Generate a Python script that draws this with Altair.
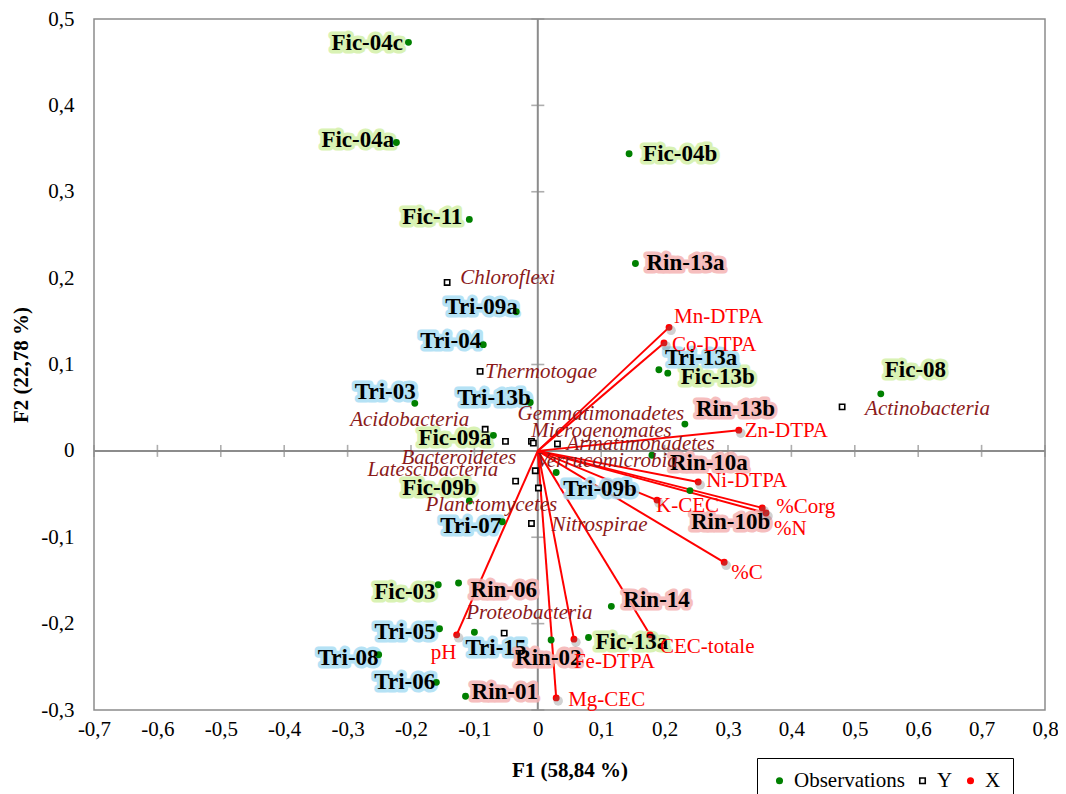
import altair as alt
import pandas as pd

# ---------------- data ----------------
obs_names = ["Fic-04c", "Fic-04a", "Fic-04b", "Fic-11", "Rin-13a", "Tri-09a", "Tri-04",
             "Tri-03", "Tri-13b", "Fic-09a", "Fic-09b", "Tri-07", "Tri-09b", "Tri-13a",
             "Fic-13b", "Rin-13b", "Rin-10a", "Rin-10b", "Fic-08", "Fic-03", "Rin-06",
             "Rin-14", "Tri-05", "Tri-08", "Tri-15", "Tri-06", "Rin-01", "Rin-02", "Fic-13a"]
obs_x = [-0.204, -0.223, 0.144, -0.108, 0.154, -0.034, -0.086,
         -0.194, -0.012, -0.070, -0.108, -0.056, 0.029, 0.191,
         0.205, 0.232, 0.180, 0.240, 0.541, -0.157, -0.125,
         0.116, -0.155, -0.251, -0.100, -0.160, -0.114, 0.021, 0.080]
obs_y = [0.473, 0.357, 0.344, 0.268, 0.217, 0.161, 0.123,
         0.055, 0.056, 0.018, -0.058, -0.082, -0.025, 0.094,
         0.090, 0.031, -0.005, -0.046, 0.066, -0.155, -0.153,
         -0.180, -0.206, -0.236, -0.210, -0.268, -0.284, -0.219, -0.216]
# label placement offsets (pixels: left edge of text / vertical centre, relative to the point)
obs_lab_dx = [-77, -75, 14, -67, 11, -71, -63, -60, -73, -75, -67, -62, 7, 6,
              13, 11, 18, 1, 4, -64, 12, 12, -65, -61, -9, -62, 6, -36, 7]
obs_lab_dy = [1, -3, 0, -2, 0, -5, -4, -11, -5, 3, -13, 4, 17, -12,
              4, -15, 8, 31, -24, 7, 7, -6, 3, 3, 16, 0, -4, 18, 5]

taxa_names = ["Chloroflexi", "Thermotogae", "Acidobacteria", "Gemmatimonadetes",
              "Microgenomates", "Armatimonadetes", "Bacteroidetes", "Verrucomicrobia",
              "Latescibacteria", "Planctomycetes", "Nitrospirae", "Proteobacteria",
              "Actinobacteria"]
taxa_x = [-0.143, -0.091, -0.083, -0.010, -0.007, 0.031, -0.051, -0.004,
          -0.035, 0.001, -0.010, -0.053, 0.480]
taxa_y = [0.195, 0.092, 0.025, 0.011, 0.009, 0.008, 0.011, -0.023,
          -0.035, -0.043, -0.084, -0.211, 0.051]
taxa_lab_dx = [13, 5, -135, -14, -2, 9, -104, 1, -148, -113, 20, -38, 23]
taxa_lab_dy = [-4, 1, -9, -27, -12, 0, 17, -10, -11, 17, 2, -20, 2]

var_names = ["Mn-DTPA", "Co-DTPA", "Zn-DTPA", "Ni-DTPA", "K-CEC", "%Corg", "%N",
             "%C", "CEC-totale", "Fe-DTPA", "Mg-CEC", "pH"]
var_x = [0.207, 0.199, 0.317, 0.253, 0.188, 0.354, 0.360, 0.294, 0.177, 0.057, 0.029, -0.128]
var_y = [0.143, 0.125, 0.024, -0.036, -0.057, -0.066, -0.072, -0.129, -0.213, -0.218, -0.286, -0.213]
var_lab_dx = [5, 8, 6, 8, -1, 14, 8, 7, 10, 0, 12, -26]
var_lab_dy = [-10, 2, 1, -1, 6, -1, 16, 11, 12, 23, 2, 18]

X_TICKS = [-0.7, -0.6, -0.5, -0.4, -0.3, -0.2, -0.1, 0.0, 0.1, 0.2, 0.3, 0.4, 0.5, 0.6, 0.7, 0.8]
Y_TICKS = [-0.3, -0.2, -0.1, 0.0, 0.1, 0.2, 0.3, 0.4, 0.5]
X_TITLE = "F1 (58,84 %)"
Y_TITLE = "F2 (22,78 %)"
TYPES = ["Observations", "Y", "X"]
GROUPS = ["Fic", "Tri", "Rin"]

# ---------------- layout / style ----------------
W, H = 951, 691
XDOM = [-0.7, 0.8]
YDOM = [-0.3, 0.5]
PX_X = W / (XDOM[1] - XDOM[0])
PX_Y = H / (YDOM[1] - YDOM[0])
FONT = "Liberation Serif"
GREY = "#8c8c8c"
HALO = {"Fic": "#d3f0a8", "Tri": "#a9def4", "Rin": "#f5b3b3"}


def place(xs, ys, dxs, dys):
    return ([x + dx / PX_X for x, dx in zip(xs, dxs)],
            [y - dy / PX_Y for y, dy in zip(ys, dys)])


obs_lx, obs_ly = place(obs_x, obs_y, obs_lab_dx, obs_lab_dy)
taxa_lx, taxa_ly = place(taxa_x, taxa_y, taxa_lab_dx, taxa_lab_dy)
var_lx, var_ly = place(var_x, var_y, var_lab_dx, var_lab_dy)

obs_df = pd.DataFrame({"name": obs_names, "x": obs_x, "y": obs_y, "lx": obs_lx, "ly": obs_ly,
                       "group": [n[:3] for n in obs_names]})
taxa_df = pd.DataFrame({"name": taxa_names, "x": taxa_x, "y": taxa_y, "lx": taxa_lx, "ly": taxa_ly})
var_df = pd.DataFrame({"name": var_names, "x": var_x, "y": var_y, "lx": var_lx, "ly": var_ly,
                       "x0": 0.0, "y0": 0.0})

pts_df = pd.concat([
    pd.DataFrame({"x": obs_x, "y": obs_y, "type": "Observations"}),
    pd.DataFrame({"x": taxa_x, "y": taxa_y, "type": "Y"}),
    pd.DataFrame({"x": var_x, "y": var_y, "type": "X"}),
], ignore_index=True)

xs = alt.Scale(domain=XDOM, nice=False, zero=False)
ys = alt.Scale(domain=YDOM, nice=False, zero=False)

label_expr = "datum.value == 0 ? '0' : replace(toString(round(datum.value*10)/10), '.', ',')"

X_AXIS = alt.Axis(
    values=X_TICKS, title=X_TITLE, labelExpr=label_expr, grid=False, ticks=False, domain=False,
    labelFont=FONT, labelFontSize=21, labelColor="black", labelPadding=8,
    labelFlush=False, labelOverlap=False,
    titleFont=FONT, titleFontSize=21, titleFontWeight="bold", titleColor="black", titlePadding=20)
Y_AXIS = alt.Axis(
    values=Y_TICKS, title=Y_TITLE, labelExpr=label_expr, grid=False, ticks=False, domain=False,
    labelFont=FONT, labelFontSize=21, labelColor="black", labelPadding=20,
    labelFlush=False, labelOverlap=False,
    titleFont=FONT, titleFontSize=21, titleFontWeight="bold", titleColor="black", titlePadding=9)


def X(f):
    return alt.X(f, type="quantitative", scale=xs, axis=X_AXIS)


def Y(f):
    return alt.Y(f, type="quantitative", scale=ys, axis=Y_AXIS)


zero_df = pd.DataFrame({"v": [0.0]})
vline = alt.Chart(zero_df).mark_rule(color=GREY, strokeWidth=2).encode(x=X("v"))
hline = alt.Chart(zero_df).mark_rule(color=GREY, strokeWidth=2).encode(y=Y("v"))

xt_df = pd.DataFrame({"t": X_TICKS, "z": 0.0})
yt_df = pd.DataFrame({"t": Y_TICKS, "z": 0.0})
xticks = alt.Chart(xt_df).mark_tick(orient="vertical", size=12, thickness=1.6, color=GREY).encode(
    x=X("t"), y=Y("z"))
yticks = alt.Chart(yt_df).mark_tick(orient="horizontal", size=13, thickness=1.6, color=GREY).encode(
    x=X("z"), y=Y("t"))

vectors = alt.Chart(var_df).mark_rule(color="#ff0000", strokeWidth=2).encode(
    x=X("x0"), y=Y("y0"), x2="x", y2="y")

halos = []
for g in GROUPS:
    halos.append(
        alt.Chart(obs_df[obs_df["group"] == g]).mark_text(
            font=FONT, fontSize=23, fontWeight="bold", align="left", baseline="middle",
            fill=HALO[g], stroke=HALO[g], strokeWidth=7, strokeJoin="round", opacity=0.85
        ).encode(x=X("lx"), y=Y("ly"), text="name:N")
    )

obs_text = alt.Chart(obs_df).mark_text(
    font=FONT, fontSize=23, fontWeight="bold", align="left", baseline="middle", color="black"
).encode(x=X("lx"), y=Y("ly"), text="name:N")

taxa_text = alt.Chart(taxa_df).mark_text(
    font=FONT, fontSize=21, fontStyle="italic", align="left", baseline="middle", color="#8b1a1a"
).encode(x=X("lx"), y=Y("ly"), text="name:N")

var_text = alt.Chart(var_df).mark_text(
    font=FONT, fontSize=21, align="left", baseline="middle", color="#ff0000"
).encode(x=X("lx"), y=Y("ly"), text="name:N")

shadow = alt.Chart(var_df).mark_circle(color="#666666", opacity=0.3, size=90, xOffset=2, yOffset=3).encode(
    x=X("x"), y=Y("y"))

points = alt.Chart(pts_df).mark_point(filled=True, opacity=1, strokeWidth=1.6, size=28).encode(
    x=X("x"),
    y=Y("y"),
    shape=alt.Shape("type:N", scale=alt.Scale(domain=TYPES, range=["circle", "square", "circle"]),
                    legend=alt.Legend(title=None)),
    fill=alt.Fill("type:N", scale=alt.Scale(domain=TYPES, range=["#008000", "#ffffff", "#ff0000"]),
                  legend=alt.Legend(title=None)),
    stroke=alt.Stroke("type:N", scale=alt.Scale(domain=TYPES, range=["#008000", "#000000", "#ff0000"]),
                      legend=alt.Legend(title=None)),
)

chart = alt.layer(
    vline, hline, xticks, yticks, vectors, *halos, points, shadow,
    obs_text, taxa_text, var_text,
).properties(
    width=W, height=H,
    autosize=alt.AutoSizeParams(type="none"),
    padding={"left": 86, "top": 11, "right": 13, "bottom": 90},
).configure(
    font=FONT
).configure_axis(
    labelFont=FONT, titleFont=FONT, labelFontSize=21, titleFontSize=21
).configure_view(
    stroke=GREY, strokeWidth=1.5
).configure_legend(
    orient="none", legendX=663, legendY=739, direction="horizontal",
    labelFont=FONT, labelFontSize=21, labelColor="black", labelOffset=4,
    symbolSize=30, symbolStrokeWidth=1.6, columnPadding=7, padding=12,
    strokeColor="black", fillColor="white", labelLimit=300,
)

chart.save("out.html", embed_options={"renderer": "svg", "actions": False})
